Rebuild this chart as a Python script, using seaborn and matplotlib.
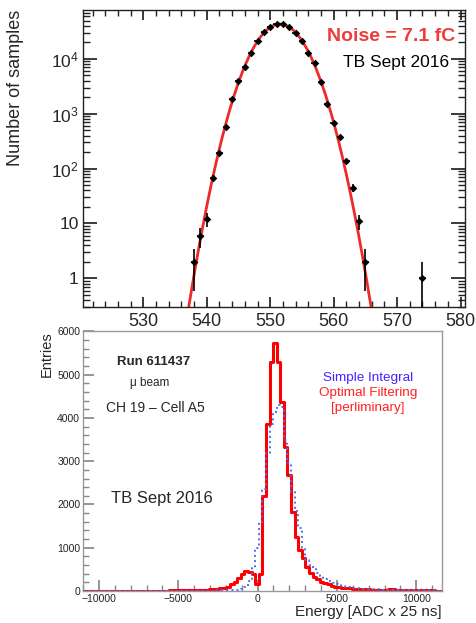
import numpy as np
import pandas as pd
import seaborn as sns
import matplotlib
matplotlib.use("Agg")
import matplotlib.pyplot as plt
from matplotlib.ticker import MultipleLocator, FixedLocator, FixedFormatter, LogLocator, NullFormatter

# ---- top panel: noise distribution (samples per ADC count) ----
adc_vals = [538, 539, 540, 541, 542, 543, 544, 545, 546, 547, 548, 549, 550, 551,
            552, 553, 554, 555, 556, 557, 558, 559, 560, 561, 562, 563, 564, 565, 574]
n_samples = [2, 6, 12, 68, 190, 575, 1870, 3900, 7000, 12700, 21000, 30500, 38000, 42800,
             42800, 38500, 29500, 21700, 12800, 8300, 3800, 1520, 690, 370, 138, 45, 11, 2, 1]

# ---- bottom panel: energy spectra, 100 bins from -11000 to 11600 ----
e_lo, e_hi, n_bins = -11000, 11600, 100
opt_filter = [0, 0, 0, 2, 0, 0, 3, 0, 0, 2, 3, 0, 4, 3, 5, 4, 3, 6, 5, 4,
              6, 8, 8, 10, 12, 14, 15, 16, 18, 20, 20, 22, 25, 28, 30, 35, 42, 50, 62, 78,
              100, 150, 215, 290, 400, 455, 450, 400, 150, 390,
              2200, 3850, 5300, 5730, 5300, 4380, 3340, 2680, 1830, 1255,
              950, 755, 550, 410, 330, 270, 215, 180, 150, 120,
              100, 90, 80, 70, 62, 55, 50, 45, 40, 36,
              32, 30, 28, 26, 30, 45, 40, 26, 22, 20,
              28, 20, 18, 16, 15, 14, 12, 12, 10, 10]
simple_int = [0, 0, 0, 0, 0, 2, 0, 0, 0, 0, 2, 0, 0, 3, 0, 0, 2, 3, 0, 3,
              2, 4, 3, 2, 4, 5, 4, 5, 6, 5, 6, 6, 7, 8, 8, 10, 10, 12, 14, 16,
              18, 20, 24, 30, 45, 100, 220, 520, 1000, 1600,
              2350, 3200, 3850, 4150, 4300, 4250, 3490, 2970, 2300, 1850,
              1450, 1000, 720, 600, 500, 420, 340, 280, 230, 190,
              160, 130, 112, 96, 82, 72, 62, 55, 48, 42,
              40, 38, 35, 32, 30, 30, 28, 26, 25, 22,
              20, 20, 18, 18, 15, 15, 13, 12, 10, 10]

sns.set_theme(style="ticks")
plt.rcParams['font.family'] = ['Liberation Sans', 'DejaVu Sans']

fig = plt.figure(figsize=(4.76, 6.23), dpi=100)
ax1 = fig.add_axes([0.1744, 0.5072, 0.8025, 0.4767])
ax2 = fig.add_axes([0.1744, 0.0514, 0.7536, 0.4165])

# top panel
pts = pd.DataFrame({'adc': adc_vals, 'n': n_samples})
yerr = np.sqrt(pts['n'].values)
ax1.errorbar(pts['adc'], pts['n'], yerr=[np.minimum(yerr, pts['n'].values), yerr],
             xerr=0.5, fmt='none', ecolor='black', elinewidth=1.2, zorder=3)
sns.scatterplot(data=pts, x='adc', y='n', ax=ax1, color='black', s=15, marker='D',
                edgecolor='black', linewidth=0, zorder=4, legend=False)

# gaussian fit on log counts (fit range 538-565)
fit_pts = pts[pts['adc'] <= 565]
coef = np.polyfit(fit_pts['adc'], np.log(fit_pts['n']), 2, w=np.sqrt(fit_pts['n']))
xs = np.linspace(535, 568, 400)
fit_df = pd.DataFrame({'adc': xs, 'fit': np.exp(np.polyval(coef, xs))})
sns.lineplot(data=fit_df, x='adc', y='fit', ax=ax1, color='#ee2a2a', lw=2.0, zorder=2)

ax1.set_yscale('log')
ax1.set_xlim(520.5, 580.7)
ax1.set_ylim(0.3, 78000)
ax1.xaxis.set_major_locator(MultipleLocator(10))
ax1.xaxis.set_minor_locator(MultipleLocator(2))
ax1.yaxis.set_major_locator(FixedLocator([1, 10, 100, 1000, 10000]))
ax1.yaxis.set_major_formatter(FixedFormatter(['1', '10', r'$\mathregular{10^2}$',
                                              r'$\mathregular{10^3}$', r'$\mathregular{10^4}$']))
ax1.yaxis.set_minor_locator(LogLocator(base=10, subs=np.arange(2, 10)))
ax1.yaxis.set_minor_formatter(NullFormatter())
ax1.tick_params(which='both', direction='in', top=True, right=True, color='#222222')
ax1.tick_params(axis='x', which='major', length=7, labelsize=13, pad=4)
ax1.tick_params(axis='x', which='minor', length=4)
ax1.tick_params(axis='y', which='major', length=10, labelsize=12.5, pad=3)
ax1.tick_params(axis='y', which='minor', length=5)
for s in ax1.spines.values():
    s.set_color('#222222')
    s.set_linewidth(1.0)
ax1.set_xlabel('')
ax1.set_ylabel('Number of samples', fontsize=13)
ax1.yaxis.label.set(rotation_mode='default', ha='center', va='top')
ax1.yaxis.set_label_coords(-0.178, 1.0)
ax1.text(0.974, 0.912, 'Noise = 7.1 fC', transform=ax1.transAxes, ha='right', va='center',
         fontsize=14, fontweight='bold', color='#ee3b3b')
ax1.text(0.958, 0.825, 'TB Sept 2016', transform=ax1.transAxes, ha='right', va='center',
         fontsize=12.5, color='black')

# bottom panel
edges = np.linspace(e_lo, e_hi, n_bins + 1)
centers = 0.5 * (edges[:-1] + edges[1:])
spec = pd.DataFrame({'energy': centers, 'opt': opt_filter, 'simple': simple_int})
sns.histplot(data=spec, x='energy', weights='opt', bins=n_bins, binrange=(e_lo, e_hi),
             element='step', fill=False, color='#ff0000', linewidth=2.2, ax=ax2, zorder=2)
sns.histplot(data=spec, x='energy', weights='simple', bins=n_bins, binrange=(e_lo, e_hi),
             element='step', fill=False, color='#4f6df5', linewidth=1.4, linestyle=':',
             ax=ax2, zorder=3)

ax2.set_xlim(e_lo, e_hi)
ax2.set_ylim(0, 6000)
ax2.xaxis.set_major_locator(MultipleLocator(5000))
ax2.xaxis.set_minor_locator(MultipleLocator(1000))
ax2.yaxis.set_major_locator(MultipleLocator(1000))
ax2.yaxis.set_minor_locator(MultipleLocator(200))
ax2.tick_params(which='both', direction='in', color='#888888', labelcolor='#222222')
ax2.tick_params(which='major', length=8, labelsize=7.5, pad=2)
ax2.tick_params(which='minor', length=4)
for s in ax2.spines.values():
    s.set_color('#999999')
    s.set_linewidth(1.0)
ax2.set_ylabel('Entries', fontsize=10.5)
ax2.yaxis.label.set(rotation_mode='default', ha='center', va='top')
ax2.yaxis.set_label_coords(-0.100, 1.0)
ax2.set_xlabel('Energy [ADC x 25 ns]', fontsize=11)
ax2.xaxis.label.set(ha='right', va='center')
ax2.xaxis.set_label_coords(1.0, -0.081)

ax2.text(0.0948, 0.8825, 'Run 611437', transform=ax2.transAxes, ha='left', va='center',
         fontsize=9.5, fontweight='bold')
ax2.text(0.131, 0.8015, 'μ beam', transform=ax2.transAxes, ha='left', va='center', fontsize=8.5)
ax2.text(0.064, 0.705, 'CH 19 – Cell A5', transform=ax2.transAxes, ha='left', va='center',
         fontsize=10)
ax2.text(0.077, 0.358, 'TB Sept 2016', transform=ax2.transAxes, ha='left', va='center',
         fontsize=12)
ax2.text(0.794, 0.821, 'Simple Integral', transform=ax2.transAxes, ha='center', va='center',
         fontsize=9.7, color='#4422ff')
ax2.text(0.794, 0.763, 'Optimal Filtering', transform=ax2.transAxes, ha='center', va='center',
         fontsize=9.7, color='#ff2020')
ax2.text(0.794, 0.704, '[perliminary]', transform=ax2.transAxes, ha='center', va='center',
         fontsize=9.7, color='#ff2020')

fig.savefig('out.png', dpi=100)
